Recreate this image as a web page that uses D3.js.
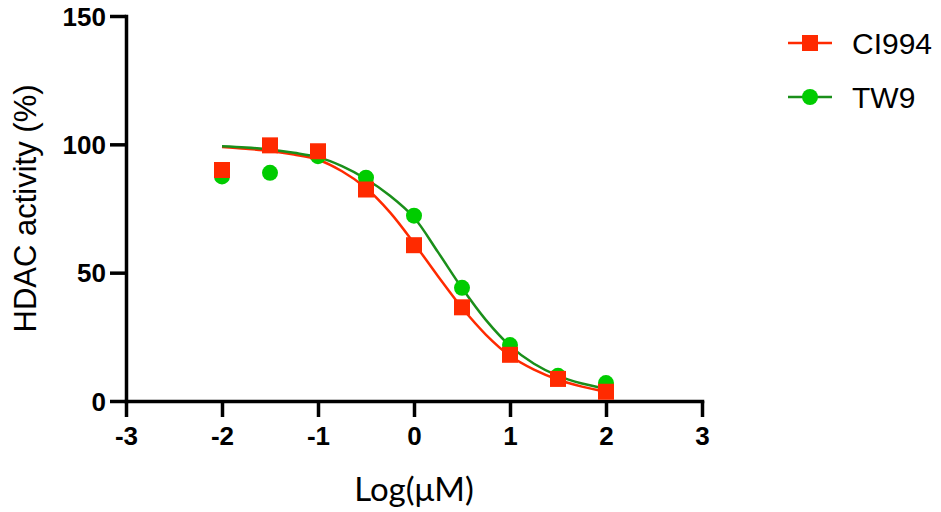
<!DOCTYPE html>
<html>
<head>
<meta charset="utf-8">
<script src="https://cdn.jsdelivr.net/npm/d3@7"></script>
<style>
  body { margin: 0; background: #fff; }
  svg { display: block; }
</style>
</head>
<body>
<svg id="chart" width="941" height="512"></svg>
<script>
// dose (log µM) and measured activity
const doses = [-2, -1.5, -1, -0.5, 0, 0.5, 1, 1.5, 2];
const ci994 = [90.0, 99.6, 97.3, 82.4, 60.7, 36.5, 18.0, 8.6, 3.6];
const tw9 = [87.5, 88.9, 95.4, 87.0, 72.2, 44.1, 21.8, 9.8, 7.0];

// fitted curves
const fitX = [-2, -1.75, -1.5, -1.25, -1, -0.75, -0.5, -0.25, 0, 0.25, 0.5, 0.75, 1, 1.25, 1.5, 1.75, 2];
const ci994Fit = [99.0, 98.3, 97.4, 96.0, 94.0, 89.5, 83.0, 73.5, 61.5, 48.6, 36.3, 25.8, 17.6, 12.2, 8.3, 5.6, 3.6];
const tw9Fit = [99.3, 98.8, 98.0, 96.7, 95.0, 91.5, 86.5, 80.0, 71.5, 58.0, 44.0, 31.5, 21.5, 14.5, 9.8, 6.8, 4.8];

const xTicks = [-3, -2, -1, 0, 1, 2, 3];
const yTicks = [0, 50, 100, 150];

const red = "#ff2a00";
const greenLine = "#1a8f1a";
const greenDot = "#00cc00";

const svg = d3.select("#chart");

const x = d3.scaleLinear().domain([-3, 3]).range([126, 702]);
const y = d3.scaleLinear().domain([0, 150]).range([401, 16]);

// axes
const xAxis = svg.append("g")
  .attr("transform", `translate(0,${y(0)})`)
  .call(d3.axisBottom(x).tickValues(xTicks).tickSize(16).tickSizeOuter(0).tickFormat(d3.format("d")));

const yAxis = svg.append("g")
  .attr("transform", `translate(${x(-3)},0)`)
  .call(d3.axisLeft(y).tickValues(yTicks).tickSize(16).tickSizeOuter(0));

[xAxis, yAxis].forEach(a => {
  a.select(".domain").attr("stroke", "#000").attr("stroke-width", 3.5).attr("stroke-linecap", "square");
  a.selectAll(".tick line").attr("stroke", "#000").attr("stroke-width", 3.5);
  a.selectAll(".tick text")
    .attr("fill", "#000")
    .style("font-family", "'Liberation Sans', Arial, sans-serif")
    .style("font-weight", "bold")
    .style("font-size", "26px");
});

xAxis.selectAll(".tick text").attr("y", 26).attr("dy", "0.71em")
  .text(d => d < 0 ? "-" + Math.abs(d) : d);
yAxis.selectAll(".tick text").attr("x", -20).attr("dy", "0.35em");

// titles
svg.append("text")
  .attr("transform", `translate(36,${(y(0) + y(150)) / 2}) rotate(-90)`)
  .attr("text-anchor", "middle")
  .style("font-family", "'Liberation Sans', Arial, sans-serif")
  .style("font-size", "31px")
  .text("HDAC activity (%)");

svg.append("text")
  .attr("x", x(0))
  .attr("y", 501)
  .attr("text-anchor", "middle")
  .style("font-family", "Lato, 'Open Sans', sans-serif")
  .style("font-size", "33px")
  .text("Log(μM)");

// fit curves
const line = d3.line()
  .x(d => x(d[0]))
  .y(d => y(d[1]))
  .curve(d3.curveCatmullRom);

svg.append("path")
  .datum(d3.zip(fitX, ci994Fit))
  .attr("fill", "none")
  .attr("stroke", red)
  .attr("stroke-width", 2.5)
  .attr("d", line);

svg.append("path")
  .datum(d3.zip(fitX, tw9Fit))
  .attr("fill", "none")
  .attr("stroke", greenLine)
  .attr("stroke-width", 2.5)
  .attr("d", line);

// points
svg.selectAll(".tw9")
  .data(d3.zip(doses, tw9))
  .enter()
  .append("circle")
  .attr("class", "tw9")
  .attr("cx", d => x(d[0]))
  .attr("cy", d => y(d[1]))
  .attr("r", 8)
  .attr("fill", greenDot);

svg.selectAll(".ci994")
  .data(d3.zip(doses, ci994))
  .enter()
  .append("rect")
  .attr("class", "ci994")
  .attr("x", d => x(d[0]) - 8)
  .attr("y", d => y(d[1]) - 8)
  .attr("width", 16)
  .attr("height", 16)
  .attr("fill", red);

// legend
const legend = svg.append("g");
const items = [
  { name: "CI994", color: red, dot: red, shape: "square", cy: 43 },
  { name: "TW9", color: greenLine, dot: greenDot, shape: "circle", cy: 97 }
];

items.forEach(it => {
  legend.append("line")
    .attr("x1", 788).attr("x2", 832)
    .attr("y1", it.cy).attr("y2", it.cy)
    .attr("stroke", it.color)
    .attr("stroke-width", 2.5);
  if (it.shape === "square") {
    legend.append("rect")
      .attr("x", 802).attr("y", it.cy - 8)
      .attr("width", 16).attr("height", 16)
      .attr("fill", it.dot);
  } else {
    legend.append("circle")
      .attr("cx", 810).attr("cy", it.cy)
      .attr("r", 8)
      .attr("fill", it.dot);
  }
  legend.append("text")
    .attr("x", 852)
    .attr("y", it.cy + 11)
    .style("font-family", "'Liberation Sans', Arial, sans-serif")
    .style("font-size", "30px")
    .text(it.name);
});
</script>
</body>
</html>
